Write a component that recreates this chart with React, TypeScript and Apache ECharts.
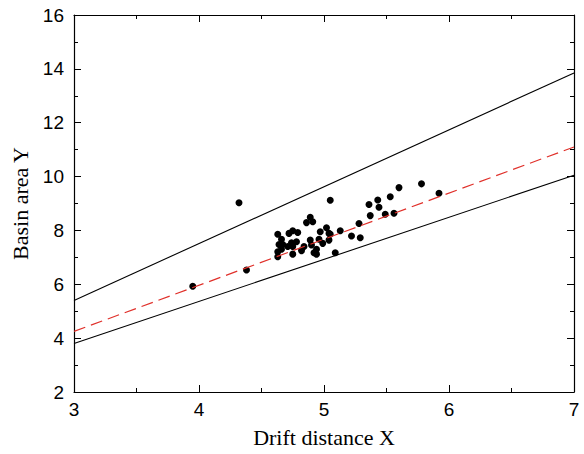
import React, { useEffect, useRef } from "react";
import * as echarts from "echarts";

const scatterX = [
  4.32, 3.95, 4.38, 5.05, 5.60, 5.78, 5.92, 5.53, 5.43, 5.36, 5.44, 5.37, 5.49, 5.56,
  5.28, 5.13, 5.22, 5.29, 5.09, 5.05,
  4.89, 4.86, 4.91, 4.63, 4.72, 4.75, 4.79, 4.97, 5.02, 5.04,
  4.66, 4.64, 4.67, 4.74, 4.78, 4.89, 4.96, 4.99, 5.04,
  4.66, 4.63, 4.71, 4.75, 4.84, 4.82, 4.90, 4.94, 4.92, 4.94, 4.75, 4.63,
];
const scatterY = [
  9.03, 5.93, 6.53, 9.12, 9.59, 9.73, 9.38, 9.25, 9.13, 8.96, 8.86, 8.55, 8.60, 8.64,
  8.26, 7.99, 7.79, 7.73, 7.17, 7.86,
  8.49, 8.29, 8.32, 7.86, 7.89, 7.99, 7.92, 7.95, 8.10, 7.89,
  7.67, 7.48, 7.48, 7.54, 7.58, 7.64, 7.67, 7.52, 7.64,
  7.30, 7.21, 7.40, 7.40, 7.40, 7.25, 7.46, 7.30, 7.17, 7.12, 7.12, 7.02,
];

const lineX = [3, 7];
const upperY = [5.4, 13.85];
const fitY = [4.25, 11.1];
const lowerY = [3.8, 10.05];

const xTicks = [3, 4, 5, 6, 7];
const yTicks = [2, 4, 6, 8, 10, 12, 14, 16];

export default function App() {
  const ref = useRef<HTMLDivElement>(null);
  useEffect(() => {
    if (!ref.current) return;
    const chart = echarts.init(ref.current, null, { renderer: "svg" });
    const axisCommon = {
      axisLine: { show: true, lineStyle: { color: "#000", width: 1.2 } },
      axisTick: { show: true, inside: true, length: 7, lineStyle: { color: "#000", width: 1 } },
      minorTick: { show: true, splitNumber: 2, length: 4, lineStyle: { color: "#000", width: 1 } },
      splitLine: { show: false },
    };
    const pts = scatterX.map((x, i) => [x, scatterY[i]]);
    const line = (ys: number[]) => lineX.map((x, i) => [x, ys[i]]);
    chart.setOption({
      animation: false,
      backgroundColor: "#fff",
      grid: { left: 74, right: 10, top: 15, bottom: 62, containLabel: false },
      xAxis: [
        {
          type: "value", min: xTicks[0], max: xTicks[xTicks.length - 1], interval: 1,
          name: "Drift distance X", nameLocation: "middle", nameGap: 34,
          nameTextStyle: { fontFamily: "Liberation Serif", fontSize: 22, color: "#000" },
          axisLabel: { fontFamily: "Liberation Sans", fontSize: 19, color: "#000", margin: 8 },
          ...axisCommon,
        },
        {
          type: "value", position: "top", min: xTicks[0], max: xTicks[xTicks.length - 1], interval: 1,
          axisLabel: { show: false }, ...axisCommon,
        },
      ],
      yAxis: [
        {
          type: "value", min: yTicks[0], max: yTicks[yTicks.length - 1], interval: 2,
          name: "Basin area Y", nameLocation: "middle", nameGap: 43,
          nameTextStyle: { fontFamily: "Liberation Serif", fontSize: 22, color: "#000" },
          axisLabel: { fontFamily: "Liberation Sans", fontSize: 19, color: "#000", margin: 10 },
          ...axisCommon,
        },
        {
          type: "value", position: "right", min: yTicks[0], max: yTicks[yTicks.length - 1], interval: 2,
          axisLabel: { show: false }, ...axisCommon,
        },
      ],
      series: [
        {
          type: "line", data: line(upperY), symbol: "none", silent: true,
          lineStyle: { color: "#000", width: 1.1 },
        },
        {
          type: "line", data: line(lowerY), symbol: "none", silent: true,
          lineStyle: { color: "#000", width: 1.1 },
        },
        {
          type: "line", data: line(fitY), symbol: "none", silent: true,
          lineStyle: { color: "#e0302a", width: 1.2, type: [12, 6] },
        },
        {
          type: "scatter", data: pts, symbol: "circle", symbolSize: 7,
          itemStyle: { color: "#000", opacity: 1 },
        },
      ],
    });
    return () => chart.dispose();
  }, []);
  return (
    <div
      ref={ref}
      style={{ position: "fixed", left: 0, top: 0, width: 584, height: 454, background: "#fff" }}
    />
  );
}
